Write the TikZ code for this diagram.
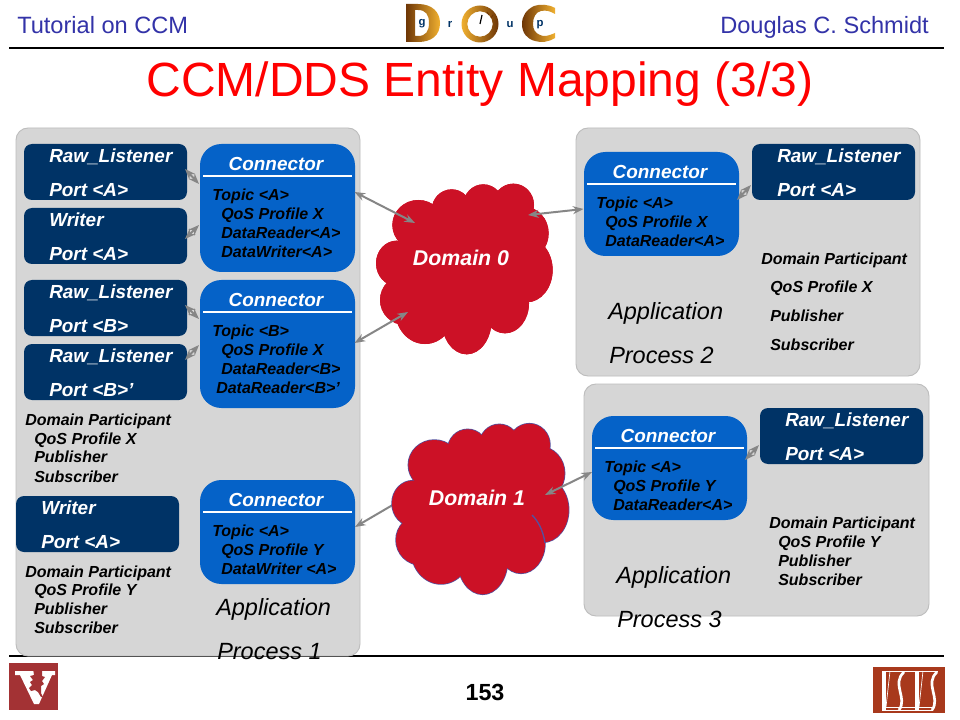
\documentclass[tikz,border=0pt]{standalone}
\usepackage{fontspec}
\setmainfont{Liberation Sans}
\usetikzlibrary{arrows.meta,calc}
\definecolor{navy}{HTML}{003366}
\definecolor{connblue}{HTML}{0562C8}
\definecolor{panelfill}{HTML}{D6D6D6}
\definecolor{paneledge}{HTML}{BDBDBD}
\definecolor{arrowgray}{HTML}{868686}
\definecolor{cloudred}{HTML}{CC1126}
\definecolor{cloudedge}{HTML}{54509E}
\definecolor{headblue}{HTML}{3333A8}
\definecolor{vandy}{HTML}{A33234}
\definecolor{isisred}{HTML}{A8391C}
\definecolor{goldA}{HTML}{6E3606}
\definecolor{goldB}{HTML}{F0B030}
\tikzset{
  x=0.75pt,y=-0.75pt,
  panel/.style={fill=panelfill,draw=paneledge,line width=0.7pt,rounded corners=9pt},
  portbox/.style={fill=navy,rounded corners=6pt,minimum width=122.25pt,minimum height=42pt,inner sep=0pt,outer sep=0pt},
  connbig/.style={fill=connblue,rounded corners=16pt,minimum width=116.25pt,minimum height=96pt,inner sep=0pt,outer sep=0pt},
  connsmall/.style={fill=connblue,rounded corners=16pt,minimum width=116.25pt,minimum height=78pt,inner sep=0pt,outer sep=0pt},
  porttext/.style={anchor=base west,yshift=-1pt,inner sep=0pt,text=white,font=\fontsize{14.2}{16}\selectfont\bfseries\itshape},
  conntitle/.style={anchor=base,yshift=-1pt,inner sep=0pt,text=white,font=\fontsize{14.2}{16}\selectfont\bfseries\itshape},
  topictext/.style={anchor=base west,yshift=-0.8pt,inner sep=0pt,text=black,font=\fontsize{12}{14}\selectfont\bfseries\itshape},
  parttext/.style={anchor=base west,yshift=-1pt,inner sep=0pt,text=black,font=\fontsize{12}{14}\selectfont\bfseries\itshape},
  apptext/.style={anchor=base west,yshift=-0.4pt,inner sep=0pt,text=black,font=\fontsize{17.6}{20}\selectfont\itshape},
  domaintext/.style={anchor=center,inner sep=0pt,text=white,font=\fontsize{16}{18}\selectfont\bfseries\itshape},
  headtext/.style={anchor=base west,inner sep=0pt,text=headblue,font=\fontsize{17.7}{20}\selectfont},
  titletext/.style={anchor=base,inner sep=0pt,text=red,font=\fontsize{36}{40}\selectfont},
  headrule/.style={line width=0.8pt,black},
  connline/.style={white,line width=1.1pt},
  duplex/.style={{Stealth[length=8pt,width=6pt]}-{Stealth[length=8pt,width=6pt]},arrowgray,line width=1.5pt},
  logoletter/.style={inner sep=0pt,text=navy,font=\fontsize{8.5}{9}\selectfont\bfseries},
}
\newcommand{\cloudshape}[2]{%
  \begin{scope}[shift={(#1)}]
    \foreach \px/\py/\ra/\rb in {
      205/165/78/75,305/120/60/62,400/105/60/62,490/105/62/64,522/190/74/80,
      530/300/78/97,465/400/72/90,350/450/75/103,225/420/90/102,165/390/75/75,140/280/62/68}
      {\path[#2] (\px/3,\py/3) ellipse [x radius=\ra/3,y radius=\rb/3];}
    \foreach \px/\py/\ra/\rb in {
      205/165/78/75,305/120/60/62,400/105/60/62,490/105/62/64,522/190/74/80,
      530/300/78/97,465/400/72/90,350/450/75/103,225/420/90/102,165/390/75/75,140/280/62/68}
      {\fill[cloudred] (\px/3,\py/3) ellipse [x radius=\ra/3,y radius=\rb/3];}
    \fill[cloudred] (340/3,280/3) ellipse [x radius=190/3,y radius=170/3];
  \end{scope}}
\begin{document}
\begin{tikzpicture}
\useasboundingbox (0,0) rectangle (960,720);
\fill[white] (0,0) rectangle (960,720);
% header
\node[headtext] (tut) at (17,34) {Tutorial on CCM};
\node[headtext] (doug) at (720,34) {Douglas C. Schmidt};
\draw[headrule] (9,48) -- (944,48);
\node[titletext] (title) at (480,97) {CCM/DDS Entity Mapping (3/3)};
% DOC logo
\begin{scope}
  \shade[left color=goldA,right color=goldB,even odd rule]
    (406,4) -- (418,4) .. controls (432,4) and (440,12) .. (440,23) .. controls (440,35) and (432,42) .. (418,42) -- (406,42) -- cycle
    (415,10) -- (415,36) -- (418,36) .. controls (426,36) and (429,31) .. (429,23) .. controls (429,15) and (426,10) .. (418,10) -- cycle;
  \shade[left color=goldB,right color=goldA,even odd rule]
    (480,24) circle [radius=18.5] (480,24) circle [radius=12.7];
  \shade[left color=goldA,right color=goldB,even odd rule]
    (555,8) .. controls (548,4) and (540,4) .. (534,6) .. controls (526,10) and (522,16) .. (522,24) .. controls (522,33) and (527,39) .. (535,41) .. controls (541,43) and (549,42) .. (555,38) -- (555,33) .. controls (548,36) and (544,37) .. (540,35) .. controls (535,33) and (533,29) .. (533,24) .. controls (533,17) and (536,12) .. (541,11) .. controls (546,10) and (550,11) .. (555,14) -- cycle;
  \draw[black,line width=0.9pt] (482,15) -- (480,24);
  \draw[goldA,line width=0.7pt] (487,12) -- (489,15) (493,15) -- (491,18);
\end{scope}
\node[logoletter] (lg) at (422,24) {g};
\node[logoletter] (lr) at (450,24) {r};
\node[logoletter] (lu) at (510,25) {u};
\node[logoletter] (lp) at (540,25) {p};
% footer rule then panels
\draw[headrule] (9,656) -- (944,656);
\path[panel] (16,128) rectangle (360,656);
\path[panel] (576,128) rectangle (920,376);
\path[panel] (584,384) rectangle (929,616);
\coordinate (d0) at (461,258);
\coordinate (d1) at (477,498);
% boxes
\node[portbox] (p1) at (105.5,172) {};
\node[portbox] (p2) at (105.5,236) {};
\node[portbox] (p3) at (105.5,308) {};
\node[portbox] (p4) at (105.5,372) {};
\node[portbox] (p5) at (97.5,524) {};
\node[portbox] (p6) at (833.5,172) {};
\node[portbox] (p7) at (841.5,436) {};
\node[connbig] (c1) at (277.5,208) {};
\node[connbig] (c2) at (277.5,344) {};
\node[connsmall] (c3) at (277.5,532) {};
\node[connsmall] (c4) at (661.5,204) {};
\node[connsmall] (c5) at (669.5,468) {};
% port texts
\node[porttext] (t1a) at (49,161) {Raw\_Listener};
\node[porttext] (t1b) at (49,195) {Port <A>};
\node[porttext] (t2a) at (49,225) {Writer};
\node[porttext] (t2b) at (49,259) {Port <A>};
\node[porttext] (t3a) at (49,297) {Raw\_Listener};
\node[porttext] (t3b) at (49,331) {Port <B>};
\node[porttext] (t4a) at (49,361) {Raw\_Listener};
\node[porttext] (t4b) at (49,395) {Port <B>’};
\node[porttext] (t5a) at (41,513) {Writer};
\node[porttext] (t5b) at (41,547) {Port <A>};
\node[porttext] (t6a) at (777,161) {Raw\_Listener};
\node[porttext] (t6b) at (777,195) {Port <A>};
\node[porttext] (t7a) at (785,425) {Raw\_Listener};
\node[porttext] (t7b) at (785,459) {Port <A>};
% connector texts
\node[conntitle] (ct1) at (276,169) {Connector};
\draw[connline] (203,176) -- (352,176);
\node[topictext] (a1) at (212,199) {Topic <A>};
\node[topictext] (a2) at (221,218) {QoS Profile X};
\node[topictext] (a3) at (221,237) {DataReader<A>};
\node[topictext] (a4) at (221,256) {DataWriter<A>};
\node[conntitle] (ct2) at (276,305) {Connector};
\draw[connline] (203,312) -- (352,312);
\node[topictext] (b1) at (212,335) {Topic <B>};
\node[topictext] (b2) at (221,354) {QoS Profile X};
\node[topictext] (b3) at (221,373) {DataReader<B>};
\node[topictext] (b4) at (216,392) {DataReader<B>’};
\node[conntitle] (ct3) at (276,505) {Connector};
\draw[connline] (203,512) -- (352,512);
\node[topictext] (e1) at (212,535) {Topic <A>};
\node[topictext] (e2) at (221,554) {QoS Profile Y};
\node[topictext] (e3) at (221,573) {DataWriter <A>};
\node[conntitle] (ct4) at (660,177) {Connector};
\draw[connline] (587,184) -- (736,184);
\node[topictext] (f1) at (596,207) {Topic <A>};
\node[topictext] (f2) at (605,226) {QoS Profile X};
\node[topictext] (f3) at (605,245) {DataReader<A>};
\node[conntitle] (ct5) at (668,441) {Connector};
\draw[connline] (595,448) -- (744,448);
\node[topictext] (g1) at (604,471) {Topic <A>};
\node[topictext] (g2) at (613,490) {QoS Profile Y};
\node[topictext] (g3) at (613,509) {DataReader<A>};
% participants
\node[parttext] (q1) at (25,424) {Domain Participant};
\node[parttext] (q2) at (34,443) {QoS Profile X};
\node[parttext] (q3) at (34,461) {Publisher};
\node[parttext] (q4) at (34,481) {Subscriber};
\node[parttext] (r1) at (25,576) {Domain Participant};
\node[parttext] (r2) at (34,594) {QoS Profile Y};
\node[parttext] (r3) at (34,613) {Publisher};
\node[parttext] (r4) at (34,632) {Subscriber};
\node[parttext] (s1) at (761,263) {Domain Participant};
\node[parttext] (s2) at (770,291) {QoS Profile X};
\node[parttext] (s3) at (770,320) {Publisher};
\node[parttext] (s4) at (770,349) {Subscriber};
\node[parttext] (u1) at (769,527) {Domain Participant};
\node[parttext] (u2) at (778,546) {QoS Profile Y};
\node[parttext] (u3) at (778,565) {Publisher};
\node[parttext] (u4) at (778,584) {Subscriber};
% application labels
\node[apptext] (ap1) at (216,615) {Application};
\node[apptext] (pr1) at (217,659) {Process 1};
\node[apptext] (ap2) at (608,319) {Application};
\node[apptext] (pr2) at (609,363) {Process 2};
\node[apptext] (ap3) at (616,583) {Application};
\node[apptext] (pr3) at (617,627) {Process 3};
% arrow passing behind Domain 1
\draw[duplex] ([shift={(77.5,-5)}]c3.center) -- ([shift={(-57,-9)}]d1);
% clouds
\cloudshape{350,170}{fill=cloudred}
\cloudshape{366,410}{fill=cloudred,draw=cloudedge,line width=1.1pt}
\draw[cloudedge,line width=1pt] (532,515) .. controls (538,521) and (543,530) .. (545,543);
\node[domaintext] (dom0) at (d0) {Domain 0};
\node[domaintext] (dom1) at (d1) {Domain 1};
% connectors
\draw[duplex] ([shift={(-2,-3)}]p1.east) -- ([shift={(-1,-24)}]c1.west);
\draw[duplex] ([shift={(-2,3)}]p2.east) -- ([shift={(-1,17)}]c1.west);
\draw[duplex] ([shift={(-2,-3)}]p3.east) -- ([shift={(-1,-25)}]c2.west);
\draw[duplex] ([shift={(-2,-12)}]p4.east) -- ([shift={(-1,1)}]c2.west);
\draw[duplex] ([shift={(77,-16)}]c1.center) -- ([shift={(-46,-35)}]d0);
\draw[duplex] ([shift={(77,-1)}]c2.center) -- ([shift={(-53,54)}]d0);
\draw[duplex] ([shift={(67,-43)}]d0) -- ([shift={(-78,5)}]c4.center);
\draw[duplex] ([shift={(68,-3)}]d1) -- ([shift={(-77.5,4)}]c5.center);
\draw[duplex] ([shift={(75.5,-4)}]c4.center) -- ([shift={(-1,13)}]p6.west);
\draw[duplex] ([shift={(75.5,-8)}]c5.center) -- ([shift={(-1,9)}]p7.west);
% footer
\node[inner sep=0pt,font=\fontsize{17.5}{20}\selectfont\bfseries] (pg) at (485,692) {153};
% Vanderbilt logo
\fill[vandy] (9,663) rectangle (58,710);
\fill[white] (15,671) -- (55,671) -- (55,675) -- (52,675) -- (39,704) -- (34,704) -- (20,675) -- (15,675) -- cycle;
\fill[vandy] (33,668) -- (36,671) -- (39,669) -- (42,671) -- (42,676) -- (45,677) -- (42,681) -- (44,684) -- (41,686) -- (41,693) -- (43,697) -- (41,697) -- (38,692) -- (35,690) -- (31,691) -- (29,688) -- (32,685) -- (30,682) -- (33,680) -- (30,676) -- (34,675) -- cycle;
% ISIS logo
\fill[isisred] (873,667) rectangle (945,713);
\begin{scope}[white]
  \fill (882,671) rectangle (885.5,710);
  \fill (915,671) rectangle (919,710);
  \draw[line width=2pt] (904,672) .. controls (891,684) and (908,698) .. (899,710);
  \draw[line width=2pt] (937,672) .. controls (924,684) and (941,698) .. (932,710);
  \draw[line width=0.5pt] (882,671) -- (938,671) (882,710) -- (933,710) (886,707) -- (934,707);
  \draw[line width=0.5pt] (890,671) -- (886,707) (923,671) -- (919,707);
\end{scope}
\end{tikzpicture}
\end{document}
